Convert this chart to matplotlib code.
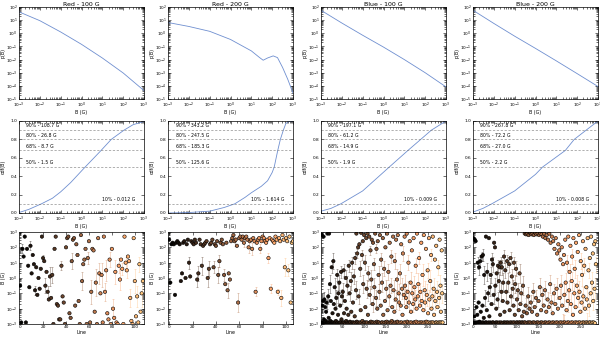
import numpy as np
import matplotlib.pyplot as plt
from matplotlib.ticker import LogLocator, NullFormatter

titles = ["Red - 100 G", "Red - 200 G", "Blue - 100 G", "Blue - 200 G"]

# ---- top row: p(B), log10 values
red100_pdf_B = [1e-3, 1e-2, 1e-1, 1, 10, 100, 1000]
red100_pdf_logp = [1.63, 0.96, 0.10, -0.84, -1.88, -3.02, -4.36]
red200_pdf_B = [1e-3, 1e-2, 1e-1, 1, 10, 25, 37, 60, 112, 180, 316, 560, 1000]
red200_pdf_logp = [0.82, 0.52, 0.15, -0.47, -1.34, -1.85, -2.05, -1.88, -1.72, -1.85, -2.6, -3.5, -4.55]
blue100_pdf_B = [1e-3, 1e-2, 1e-1, 1, 10, 100, 1000]
blue100_pdf_logp = [1.75, 0.78, -0.15, -1.05, -2.0, -3.0, -4.08]
blue200_pdf_B = [1e-3, 1e-2, 1e-1, 1, 10, 100, 1000]
blue200_pdf_logp = [1.75, 0.75, -0.22, -1.15, -2.1, -3.07, -4.05]

# ---- middle row: cdf(B)
red100_cdf_B = [1e-3, 3e-3, 0.012, 0.04, 0.1, 0.3, 1.5, 4, 8.7, 26.8, 108.7, 300, 1000]
red100_cdf = [0.005, 0.04, 0.10, 0.16, 0.23, 0.33, 0.50, 0.60, 0.68, 0.80, 0.90, 0.96, 0.995]
red200_cdf_B = [1e-3, 1e-2, 0.1, 0.5, 1.614, 5, 10, 30, 60, 100, 125.6, 185.3, 247.5, 343.2, 450, 600, 1000]
red200_cdf = [0.0, 0.005, 0.02, 0.06, 0.10, 0.17, 0.22, 0.29, 0.35, 0.44, 0.50, 0.68, 0.80, 0.90, 0.97, 0.995, 1.0]
blue100_cdf_B = [1e-3, 3e-3, 0.009, 0.1, 1.9, 14.9, 61.2, 197.1, 1000]
blue100_cdf = [0.02, 0.05, 0.10, 0.24, 0.50, 0.68, 0.80, 0.90, 1.0]
blue200_cdf_B = [1e-3, 3e-3, 0.008, 0.1, 1.0, 2.2, 27.0, 72.2, 267.8, 1000]
blue200_cdf = [0.01, 0.05, 0.10, 0.24, 0.42, 0.50, 0.68, 0.80, 0.90, 1.0]

pct_levels = [0.9, 0.8, 0.68, 0.5, 0.1]
red100_pct = ["90% - 108.7 G", "80% - 26.8 G", "68% - 8.7 G", "50% - 1.5 G", "10% - 0.012 G"]
red200_pct = ["90% - 343.2 G", "80% - 247.5 G", "68% - 185.3 G", "50% - 125.6 G", "10% - 1.614 G"]
blue100_pct = ["90% - 197.1 G", "80% - 61.2 G", "68% - 14.9 G", "50% - 1.9 G", "10% - 0.009 G"]
blue200_pct = ["90% - 267.8 G", "80% - 72.2 G", "68% - 27.0 G", "50% - 2.2 G", "10% - 0.008 G"]

# ---- bottom row: log10 B per line, and error bars {line: dex}
red100_logB = [
    -0.5, -2.9, 1.9, 1.4, 2.7, -2.9, 1.9, 0.8, -0.6, 2.1,
    0.3, 1.5, 0.9, -0.8, 0.7, -1.1, 0.0, -0.7, 0.6, 2.7,
    1.3, 1.1, -0.5, 0.4, -0.9, -1.4, 0.1, -1.3, 0.2, -3.0,
    1.9, 2.7, -1.7, -1.8, -2.7, -2.7, 0.8, -1.2, -1.6, -3.0,
    2.0, 2.6, 2.7, -2.3, -2.6, 1.1, 2.5, 2.6, -1.8, 2.2,
    1.5, -1.5, -3.0, 2.8, -0.2, 0.9, 1.2, 1.9, -3.0, 1.3,
    2.4, -2.9, -0.9, 1.9, 1.8, -2.2, -0.3, -3.0, 2.6, 0.3,
    -1.0, 0.2, -2.9, 2.7, -0.9, 0.5, -2.3, -2.7, 1.2, -3.0,
    1.9, -2.0, -2.6, 0.4, -2.9, -3.0, 0.8, -0.1, 1.2, 0.6,
    -3.0, 2.7, 1.0, 0.5, 1.4, 1.1, -1.3, -2.8, -3.0, 2.6,
    -0.2, -2.5, -1.2, -2.9, 0.9, -2.2, -1.0, -0.2]
red100_err = {2: 0.3, 9: 0.3, 13: 0.3, 20: 0.2, 22: 0.5, 24: 0.4, 26: 0.6, 28: 0.5,
              36: 0.3, 45: 0.5, 54: 0.6, 59: 0.4, 62: 0.8, 66: 0.9, 69: 0.7, 71: 0.8,
              74: 0.6, 75: 0.7, 78: 0.5, 81: 0.6, 83: 0.8, 86: 0.5, 87: 0.7, 89: 0.4,
              92: 0.4, 93: 0.5, 96: 0.6, 100: 0.8, 102: 0.7, 104: 0.5, 106: 0.9}

red200_logB = [
    2.5, -0.3, 2.2, 2.3, 2.2, -1.1, 2.3, 2.4, 2.3, 2.2,
    -0.2, 0.3, 2.3, 2.4, 0.0, 2.2, 2.5, 1.0, 0.1, 2.4,
    2.3, 2.2, 2.5, 2.3, -0.1, 0.3, 2.5, 2.2, 0.8, 2.1,
    2.2, 2.3, 2.4, 0.0, 0.6, 2.2, 2.3, 2.5, 0.7, 2.2,
    2.1, 2.4, 0.2, 1.1, 2.3, 2.5, 2.2, 0.2, -0.4, 2.3,
    -0.8, 0.3, -0.1, 2.4, 2.6, 2.8, 2.4, 2.5, 2.1, -1.6,
    2.6, 2.7, 2.5, 2.7, 2.3, 2.6, 2.7, 2.5, 2.0, 2.4,
    2.5, 1.9, 2.6, 2.4, -0.9, 2.3, 2.5, 2.6, 1.9, 2.4,
    2.7, 2.6, 2.4, 2.3, 2.5, 1.3, 2.6, -0.7, 2.5, 2.4,
    2.3, 2.7, 2.5, -0.9, 2.6, 2.4, -1.3, 2.8, 2.5, 0.7,
    2.6, 2.4, 0.5, 2.7, -1.6, 2.3, 2.4]
red200_err = {17: 0.4, 24: 0.5, 25: 0.5, 28: 0.6, 33: 0.6, 34: 0.5, 38: 0.4, 42: 0.5,
              43: 0.4, 47: 0.4, 50: 0.5, 56: 0.3, 59: 0.6, 64: 0.3, 68: 0.4, 71: 0.4,
              74: 0.3, 78: 0.3, 85: 0.3, 87: 0.3, 93: 0.2, 96: 0.5, 99: 0.6, 102: 0.4}

blue100_logB = [
    -2.9, 2.8, -1.8, -2.9, -1.5, 2.7, -2.7, -1.4, -3.0, -1.9, -2.8, -2.2, -1.6, -2.95, 2.9,
    -2.9, -1.2, -2.6, 2.9, -2.9, -0.4, -2.8, -1.5, -3.0, 0.7, -2.9, -2.3, -2.9, 1.1, -1.7,
    -2.95, -0.6, -2.9, -2.0, -2.8, -1.3, -3.0, 0.2, -2.9, -2.4, -1.0, -2.95, -0.3, -2.9, -1.8,
    -2.9, 0.4, -2.7, -1.2, -2.95, -0.9, -2.9, 0.5, -2.3, -2.9, -1.5, -3.0, 0.0, -2.8, -2.0,
    -2.9, -0.5, -2.95, -2.4, 0.8, -2.9, -1.0, -2.85, -2.9, -0.2, -2.2, -2.95, 1.0, -2.9, -1.6,
    -2.9, 0.1, -2.95, -2.5, 1.3, -2.9, -0.8, 2.9, -2.85, 1.6, -2.9, 2.0, -1.2, -2.95, 2.2,
    -2.9, 0.6, -2.1, 2.95, -2.9, 1.5, -2.8, 2.4, -0.4, -2.95, 2.8, -2.9, 1.0, -1.9, -2.9,
    2.6, -0.7, -2.9, 2.9, -2.4, 0.3, -2.95, 2.7, -1.1, -2.9, 1.8, -2.85, -0.1, 2.5, -2.9,
    -1.7, 2.3, -2.9, 0.9, -0.6, -2.95, 2.9, -2.9, -1.3, 1.9, -2.85, -2.0, 2.4, -2.9, 0.2,
    -2.9, -0.9, 2.8, -2.95, -1.8, 1.2, -2.9, -0.3, -2.9, 2.6, -2.4, -2.95, 0.6, -2.9, -1.5,
    2.0, -2.9, -0.7, -2.85, 2.9, -2.1, -2.9, 0.4, -2.95, -1.2, 2.3, -2.9, -0.5, -2.9, 1.4,
    -2.8, -1.9, -2.9, 2.7, -0.8, -2.95, -2.2, 1.1, -2.9, -1.4, 2.5, -2.9, -0.1, -2.85, 2.8,
    -2.9, -1.0, -1.6, -2.95, 0.3, -2.9, -1.8, 2.2, -2.9, -0.7, -2.4, 1.6, -2.95, -1.1, -2.9,
    2.7, -0.5, -2.9, -1.3, -1.9, 2.9, -2.85, -0.9, -2.9, 1.0, -1.6, -2.95, 2.4, -2.9, -0.3,
    -2.2, -2.9, 1.8, -1.0, -2.95, -1.7, 2.6, -2.9, -0.6, -2.9, -1.4, 0.8, -2.85, -2.0, 2.9,
    -2.9, -1.2, -0.4, -2.95, 1.3, -2.9, -1.8, -0.9, -2.9, 2.3, -1.5, -2.9, 0.2, -2.95, -2.1,
    2.8, -2.9, -0.8, -1.6, -2.9, 1.9, -2.85, -1.1, -2.9, 0.5, -2.3, -2.9, 2.6, -1.4, -2.95,
    -0.2, -2.9, 1.5, -2.0, -2.9, -1.2, 2.7, -2.9, -0.7, -2.4, -2.95, 1.2, -1.5, -2.9, 2.1,
    -2.9, -0.9, -1.9, -2.95, 0.7, -2.9, -1.3, 2.5, -2.9, -0.5, -2.2, -2.9, 1.8, -1.0, -2.9]
blue100_err = {2: 0.4, 7: 0.5, 12: 0.4, 16: 0.5, 20: 0.6, 24: 0.4, 28: 0.5, 31: 0.6,
               35: 0.5, 37: 0.4, 40: 0.6, 42: 0.5, 46: 0.4, 48: 0.5, 50: 0.6, 52: 0.4,
               57: 0.5, 61: 0.6, 64: 0.4, 66: 0.5, 69: 0.6, 72: 0.4, 76: 0.5, 79: 0.4,
               81: 0.6, 84: 0.3, 87: 0.5, 91: 0.5, 95: 0.3, 98: 0.6, 102: 0.5, 106: 0.6,
               110: 0.5, 113: 0.6, 115: 0.3, 117: 0.6, 120: 0.5, 123: 0.4, 124: 0.6,
               128: 0.5, 129: 0.3, 134: 0.6, 136: 0.5, 140: 0.4, 142: 0.6, 147: 0.5,
               152: 0.6, 157: 0.5, 159: 0.6, 162: 0.5, 164: 0.4, 169: 0.7, 172: 0.5,
               174: 0.6, 177: 0.7, 181: 0.6, 182: 0.5, 184: 0.6, 189: 0.7, 191: 0.5,
               193: 0.6, 196: 0.7, 198: 0.6, 202: 0.7, 204: 0.5, 205: 0.6, 209: 0.7,
               213: 0.6, 215: 0.5, 218: 0.7, 220: 0.6, 221: 0.5, 226: 0.6, 227: 0.7,
               229: 0.4, 232: 0.6, 235: 0.5, 237: 0.7, 242: 0.6, 243: 0.5, 247: 0.7,
               249: 0.5, 253: 0.6, 255: 0.7, 257: 0.4, 260: 0.6, 263: 0.7, 267: 0.6,
               271: 0.7, 274: 0.5, 276: 0.6, 279: 0.7, 283: 0.6}

blue200_logB = [
    2.6, -2.9, -2.5, 2.5, -2.9, 2.4, -2.95, -1.9, -2.9, -2.4, 1.0, -2.9, -1.6, 0.7, -2.85,
    -2.9, 1.1, -2.2, -2.95, 1.4, -2.9, -1.8, 1.5, -2.9, -2.6, 0.2, -2.95, -1.3, -2.9, 2.7,
    -2.9, -2.1, 0.4, -2.95, -1.0, -2.9, 2.6, -2.5, -0.6, -2.9, 0.2, -2.95, -1.7, 1.2, -2.9,
    0.9, -2.9, -1.1, 2.3, -2.95, 2.0, -0.5, -2.9, -2.0, 0.3, -2.9, -1.4, 0.8, -2.95, -0.2,
    -2.9, 0.7, -2.4, 1.0, -2.9, -0.9, 0.7, -2.95, -1.5, -0.3, -2.9, 1.4, -2.2, -2.9, 0.5,
    -2.95, -0.9, -2.9, 1.1, -1.6, -2.9, -0.3, -2.95, 0.9, -2.1, -2.9, 1.3, -1.2, -2.9, 0.1,
    -2.95, -0.7, -2.9, -1.8, 1.0, -2.9, -2.4, -0.4, -2.95, 0.6, -2.9, -1.4, -2.9, -0.8, -2.95,
    -2.1, -2.9, 0.3, -2.9, -1.7, -2.95, -1.0, -2.9, -2.5, -2.9, -0.5, -2.95, -2.2, -2.9, 2.9,
    -2.9, -1.8, 2.85, -2.95, -2.3, 2.9, -2.9, -1.2, 2.8, -2.9, -2.0, 2.95, -2.9, -1.6, 2.85,
    -2.95, -2.2, 2.9, -2.9, -0.9, 2.8, -2.9, -1.9, 2.95, -2.95, -1.3, 2.85, -2.9, -2.4, 2.9,
    -2.9, -1.5, 2.8, -2.95, -0.6, 2.9, -2.9, -2.1, 2.85, -2.9, -1.1, 2.7, -2.95, -1.8, 2.9,
    -2.9, -0.8, 2.6, -2.9, -2.2, 2.8, -2.95, -1.4, 2.5, -2.9, -1.9, 2.9, -2.9, -0.4, 2.3,
    -2.95, -1.6, 2.7, -2.9, -2.3, 2.4, -2.9, -1.0, 1.9, -2.95, -1.7, 2.6, -2.9, -0.7, 1.6,
    -2.9, -2.0, 2.2, -2.95, 1.8, -1.3, -2.9, 1.2, -0.5, -2.9, 2.0, -1.8, -2.95, 0.9, -2.9,
    1.5, -1.1, -2.9, 2.5, -0.3, -2.95, -2.1, 1.0, -2.9, -1.5, 2.7, -2.9, -0.8, 0.4, -2.95,
    2.1, -1.7, -2.9, -0.2, 1.4, -2.9, -2.4, 2.6, -2.95, -1.0, 0.6, -2.9, -1.9, 2.3, -2.9,
    -0.5, -2.95, 1.7, -1.3, -2.9, 2.8, -0.9, -2.9, -2.2, 1.1, -2.95, -1.6, 0.2, -2.9, 2.4,
    -1.2, -2.9, 0.8, -2.95, -2.0, 1.9, -2.9, -0.6, -1.4, -2.9, 2.6, -2.95, 0.5, -1.8, -2.9,
    1.3, -2.9, -1.0, 2.7, -2.95, -0.3, -2.9, 1.6, -1.5, -2.9, 2.2, -0.7, -2.95, 2.4, 0.9]
blue200_err = {10: 0.4, 13: 0.5, 16: 0.4, 19: 0.3, 22: 0.4, 25: 0.6, 27: 0.5, 32: 0.6,
               34: 0.5, 38: 0.6, 40: 0.5, 43: 0.4, 45: 0.5, 47: 0.6, 51: 0.5, 54: 0.6,
               56: 0.5, 57: 0.4, 59: 0.6, 61: 0.5, 63: 0.4, 65: 0.6, 66: 0.5, 69: 0.6,
               71: 0.4, 74: 0.5, 76: 0.6, 78: 0.4, 81: 0.6, 83: 0.5, 86: 0.4, 87: 0.6,
               89: 0.5, 91: 0.6, 94: 0.4, 97: 0.6, 99: 0.5, 101: 0.6, 103: 0.5, 107: 0.6,
               111: 0.5, 115: 0.6, 121: 0.5, 127: 0.6, 133: 0.5, 139: 0.6, 145: 0.5,
               154: 0.6, 160: 0.5, 166: 0.6, 172: 0.5, 178: 0.6, 181: 0.5, 187: 0.6,
               193: 0.7, 199: 0.5, 200: 0.6, 203: 0.7, 207: 0.6, 209: 0.5, 211: 0.7,
               214: 0.6, 217: 0.5, 219: 0.7, 222: 0.6, 223: 0.5, 226: 0.7, 228: 0.6,
               229: 0.5, 234: 0.7, 235: 0.6, 240: 0.7, 243: 0.6, 246: 0.7, 249: 0.5,
               251: 0.6, 252: 0.7, 255: 0.6, 257: 0.5, 263: 0.7, 264: 0.6, 267: 0.5,
               268: 0.7, 272: 0.6, 275: 0.7, 278: 0.6, 281: 0.7, 284: 0.5}

pdf_B = [red100_pdf_B, red200_pdf_B, blue100_pdf_B, blue200_pdf_B]
pdf_logp = [red100_pdf_logp, red200_pdf_logp, blue100_pdf_logp, blue200_pdf_logp]
cdf_B = [red100_cdf_B, red200_cdf_B, blue100_cdf_B, blue200_cdf_B]
cdf_vals = [red100_cdf, red200_cdf, blue100_cdf, blue200_cdf]
pct_texts = [red100_pct, red200_pct, blue100_pct, blue200_pct]
line_logB = [red100_logB, red200_logB, blue100_logB, blue200_logB]
line_err = [red100_err, red200_err, blue100_err, blue200_err]
line_xmax = [108, 106, 292, 289]

plt.rcParams['font.family'] = ['DejaVu Sans']
plt.rcParams['font.size'] = 3.4
plt.rcParams['axes.linewidth'] = 0.5
plt.rcParams['mathtext.default'] = 'regular'

W, H = 600, 338
fig = plt.figure(figsize=(6, 3.38), dpi=100)
col_left = [19, 168, 321, 473]
row_top = [7, 121, 232]
aw, ah = 125, 92
line_col = '#6f8fd0'
cmap = plt.get_cmap('copper')


def style(ax):
    ax.tick_params(which='both', direction='in', top=True, right=True,
                   labelsize=3.1, width=0.4, pad=1.0)
    ax.tick_params(which='major', length=2.2)
    ax.tick_params(which='minor', length=1.1)
    ax.yaxis.set_label_coords(-0.105, 0.5)


def log_ticks(axis):
    axis.set_major_locator(LogLocator(base=10, numticks=20))
    axis.set_minor_locator(LogLocator(base=10, subs=np.arange(2, 10), numticks=20))
    axis.set_minor_formatter(NullFormatter())


for i in range(4):
    l = col_left[i] / W
    axes = [fig.add_axes([l, 1 - (t + ah) / H, aw / W, ah / H]) for t in row_top]

    # pdf
    ax = axes[0]
    ax.plot(pdf_B[i], 10 ** np.array(pdf_logp[i]), color=line_col, lw=0.6)
    ax.set_xscale('log')
    ax.set_yscale('log')
    ax.set_xlim(1e-3, 1e3)
    ax.set_ylim(1e-5, 1e2)
    log_ticks(ax.xaxis)
    log_ticks(ax.yaxis)
    ax.set_title(titles[i], fontsize=4.5, pad=0.8)
    ax.set_xlabel('B (G)', labelpad=0.5)
    ax.set_ylabel('p(B)')
    style(ax)

    # cdf
    ax = axes[1]
    ax.plot(cdf_B[i], cdf_vals[i], color=line_col, lw=0.6)
    ax.set_xscale('log')
    ax.set_xlim(1e-3, 1e3)
    ax.set_ylim(0, 1)
    ax.set_yticks([0, 0.2, 0.4, 0.6, 0.8, 1.0])
    ax.set_yticklabels(['0.0', '0.2', '0.4', '0.6', '0.8', '1.0'])
    log_ticks(ax.xaxis)
    for lev, txt in zip(pct_levels, pct_texts[i]):
        ax.axhline(lev, color='0.45', lw=0.4, ls=(0, (4, 3)))
        xt = 0.66 if lev == 0.1 else 0.06
        ax.text(xt, lev + 0.02, txt, transform=ax.transAxes,
                fontsize=3.3, va='bottom', ha='left')
    ax.set_xlabel('B (G)', labelpad=0.5)
    ax.set_ylabel('cdf(B)')
    style(ax)

    # per-line field strengths
    ax = axes[2]
    vals = np.array(line_logB[i])
    n = len(vals)
    idx = np.arange(n)
    colors = cmap(idx / (n - 1))
    for k, d in line_err[i].items():
        ax.errorbar(k, 10 ** vals[k], yerr=[[10 ** vals[k] - 10 ** (vals[k] - d)],
                                            [10 ** (vals[k] + d) - 10 ** vals[k]]],
                    fmt='none', ecolor=colors[k], alpha=0.6, elinewidth=0.4,
                    capsize=1.0, capthick=0.4, zorder=1)
    ax.scatter(idx, 10 ** vals, c=colors, s=6, edgecolors='k', linewidths=0.4, zorder=2)
    ax.set_yscale('log')
    ax.set_ylim(1e-3, 1e3)
    ax.set_xlim(-1, line_xmax[i])
    log_ticks(ax.yaxis)
    ax.set_xlabel('Line', labelpad=0.5)
    ax.set_ylabel('B (G)')
    style(ax)

fig.savefig('out.png', dpi=100)
